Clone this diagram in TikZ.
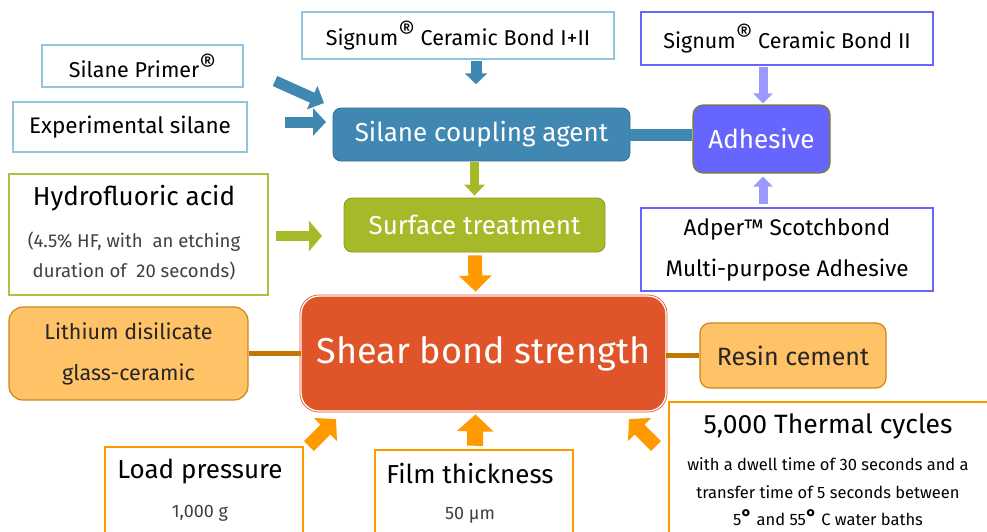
\documentclass[tikz,border=0pt]{standalone}
\usepackage{fontspec}
\setmainfont{Fira Sans}
\usetikzlibrary{arrows.meta,calc}
\definecolor{lblue}{RGB}{146,196,222}
\definecolor{cblue}{RGB}{64,136,178}
\definecolor{cblueb}{RGB}{50,110,150}
\definecolor{purp}{RGB}{102,102,255}
\definecolor{lpurp}{RGB}{153,153,255}
\definecolor{olivef}{RGB}{166,185,40}
\definecolor{oliveb}{RGB}{135,150,35}
\definecolor{hfgreen}{RGB}{170,195,65}
\definecolor{adhb}{RGB}{128,128,40}
\definecolor{shearc}{RGB}{224,84,42}
\definecolor{orng}{RGB}{255,153,0}
\definecolor{orngb}{RGB}{220,130,0}
\definecolor{peach}{RGB}{255,194,102}
\definecolor{peachb}{RGB}{205,135,25}
\definecolor{brn}{RGB}{192,120,0}
\definecolor{subgray}{RGB}{64,64,64}
\tikzset{
  x=1pt,y=-1pt,
  sqbox/.style={draw, line width=2.5pt, fill=white, inner sep=0pt, align=center, text=black},
  rbox/.style={rounded corners=#1, inner sep=0pt, align=center},
  fatarr/.style args={#1/#2/#3/#4}{draw=#1, line width=#2, fill=#1,
     -{Triangle[width=#3, length=#4]}},
  txt/.style={inner sep=0pt, align=center},
}
\newcommand{\degr}{\raisebox{1pt}{\fontsize{21}{21}\selectfont\textbf{°}}}
\newcommand{\regm}{\raisebox{0.2em}{\fontsize{26}{26}\selectfont\textregistered}}
\begin{document}
\begin{tikzpicture}
\path[use as bounding box] (0,0) rectangle (987,531);

% top-left silane boxes
\node[sqbox, draw=lblue, minimum width=201, minimum height=42, font=\fontsize{21.5}{24}\selectfont] (primer) at (142.5,66) {Silane Primer\regm};
\node[sqbox, draw=lblue, minimum width=234, minimum height=50, font=\fontsize{22.5}{26}\selectfont] (expsil) at (130,127) {Experimental silane};
\node[sqbox, draw=lblue, minimum width=312, minimum height=47, font=\fontsize{21.5}{24}\selectfont] (sig1) at (458,35.5) {Signum\regm\ Ceramic Bond I+II};

% coupling agent
\node[rbox=8pt, fill=cblue, draw=cblueb, line width=0.8pt, minimum width=297, minimum height=53, text=white, font=\fontsize{26}{28}\selectfont] (coup) at (481.5,134.5) {Silane coupling agent};

% adhesive
\node[rbox=10pt, fill=purp, draw=adhb, line width=1.2pt, minimum width=137, minimum height=68, text=white, font=\fontsize{26}{28}\selectfont] (adh) at (761.5,139) {Adhesive};
\node[sqbox, draw=purp, minimum width=292, minimum height=53, font=\fontsize{21.5}{24}\selectfont] (sig2) at (787,38.5) {Signum\regm\ Ceramic Bond II};
\node[sqbox, draw=purp, minimum width=292, minimum height=83, font=\fontsize{22.5}{41}\selectfont] (adper) at (787,249.5) {Adper™ Scotchbond\\Multi-purpose Adhesive};

% surface treatment
\node[rbox=8pt, fill=olivef, draw=oliveb, line width=0.8pt, minimum width=261, minimum height=54, text=white, font=\fontsize{26}{28}\selectfont] (surf) at (474.5,225) {Surface treatment};

% HF box
\node[sqbox, draw=hfgreen, minimum width=259, minimum height=121] (hf) at (138.5,234.5) {};
\node[txt, font=\fontsize{26}{28}\selectfont] (hft) at (134,198) {Hydrofluoric acid};
\node[txt, text=subgray, font=\fontsize{18.5}{30}\selectfont] (hfs) at (134,256) {(4.5\% HF, with\ \ an etching\\duration of\ \ 20 seconds)};

% shear bond strength
\node[rbox=18pt, fill=shearc, draw=shearc, double=white, double distance=1.3pt, line width=0.8pt, minimum width=365, minimum height=115, text=white, font=\fontsize{36}{40}\selectfont] (shear) at (483.5,353.5) {Shear bond strength};

% lithium & resin
\node[rbox=14pt, fill=peach, draw=peachb, line width=1.2pt, minimum width=239, minimum height=93, text=black!85, font=\fontsize{21.5}{41}\selectfont] (lith) at (128.5,353.5) {Lithium disilicate\\glass-ceramic};
\node[rbox=10pt, fill=peach, draw=peachb, line width=1.2pt, minimum width=186, minimum height=65, text=black!85, font=\fontsize{25}{28}\selectfont] (resin) at (793,355.5) {Resin cement};

% bottom boxes
\node[sqbox, draw=orng, minimum width=198, minimum height=88] (load) at (204,491) {};
\node[txt, font=\fontsize{26}{28}\selectfont] (loadt) at (200,472) {Load pressure};
\node[txt, text=subgray, font=\fontsize{18}{20}\selectfont] (loads) at (200,513) {1,000 g};
\node[sqbox, draw=orng, minimum width=198, minimum height=86] (film) at (474,493) {};
\node[txt, font=\fontsize{26}{28}\selectfont] (filmt) at (470,474) {Film thickness};
\node[txt, text=subgray, font=\fontsize{18}{20}\selectfont] (films) at (470,515) {50 µm};
\node[sqbox, draw=orng, minimum width=325, minimum height=134] (therm) at (831.5,469) {};
\node[txt, font=\fontsize{26.5}{28}\selectfont] (thermt) at (828,426) {5,000 Thermal cycles};
\node[txt, font=\fontsize{16.5}{27.5}\selectfont] (therms) at (828,492) {with a dwell time of 30 seconds and a\\transfer time of 5 seconds between\\5\degr\ and 55\degr\ C water baths};

% connectors: lines
\draw[cblue, line width=12pt] (coup.east) -- (coup.east -| adh.west);
\draw[brn, line width=5pt] (lith.east) -- (lith.east -| shear.west);
\draw[brn, line width=5pt] (shear.east |- resin.west) -- (resin.west);

% free-end coordinates
\coordinate (pA) at (275,81);
\coordinate (pB) at (324,103);
\coordinate (eA) at (285,122);
\coordinate (eB) at (326,122);
\coordinate (hA) at (276,236);
\coordinate (hB) at (322,236);
\coordinate (lA) at (309,446);
\coordinate (lB) at (336,419);
\coordinate (tA) at (656,446);
\coordinate (tB) at (629,419);

% block arrows
\draw[fatarr={cblue/11pt/22pt/11pt}] ($(sig1.south)+(18,1)$) -- ($(sig1.south)+(18,24)$);
\draw[fatarr={cblue/11pt/25pt/13pt}] (pA) -- (pB);
\draw[fatarr={cblue/11pt/27pt/13pt}] (eA) -- (eB);
\draw[fatarr={lpurp/9pt/19pt/10pt}] ($(sig2.south)+(-24,1)$) -- ($(adh.north)+(1.5,-1)$);
\draw[fatarr={lpurp/9pt/19pt/10pt}] ($(adper.north)+(-24,-3)$) -- ($(adh.south)+(1.5,3)$);
\draw[fatarr={olivef/9pt/20pt/11pt}] ($(coup.south)+(-7,1)$) -- ($(surf.north)+(0,-2)$);
\draw[fatarr={olivef/10pt/30pt/13pt}] (hA) -- (hB);
\draw[fatarr={orng/14pt/32pt/16pt}] ($(surf.south)+(0.5,3)$) -- ($(shear.north)+(-8,-4)$);
\draw[fatarr={orng/16pt/36pt/17pt}] ($(film.north)+(1,-3)$) -- ($(shear.south)+(-8,3)$);
\draw[fatarr={orng/14pt/32pt/15pt}] (lA) -- (lB);
\draw[fatarr={orng/14pt/32pt/15pt}] (tA) -- (tB);
\end{tikzpicture}
\end{document}
